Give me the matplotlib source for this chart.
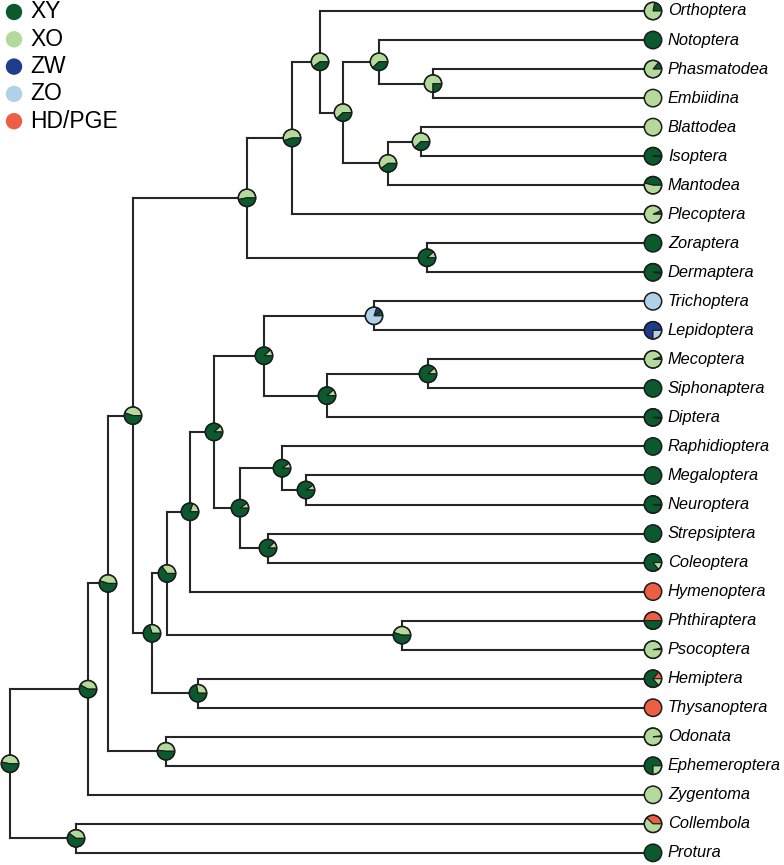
import matplotlib.pyplot as plt
from matplotlib.patches import Wedge, Circle

# tips, top to bottom
taxa = ["Orthoptera", "Notoptera", "Phasmatodea", "Embiidina", "Blattodea",
        "Isoptera", "Mantodea", "Plecoptera", "Zoraptera", "Dermaptera",
        "Trichoptera", "Lepidoptera", "Mecoptera", "Siphonaptera", "Diptera",
        "Raphidioptera", "Megaloptera", "Neuroptera", "Strepsiptera", "Coleoptera",
        "Hymenoptera", "Phthiraptera", "Psocoptera", "Hemiptera", "Thysanoptera",
        "Odonata", "Ephemeroptera", "Zygentoma", "Collembola", "Protura"]

# state probabilities at the tips
tip_XY = [0.22, 1, 0.14, 0, 0, 0.99, 0.46, 0.07, 1, 0.98,
          0, 0, 0.05, 1, 0.98, 1, 1, 0.98, 1, 0.86,
          0, 0.5, 0.03, 0.72, 0, 0.02, 0.75, 0, 0, 1]
tip_XO = [0.78, 0, 0.86, 1, 1, 0.01, 0.54, 0.93, 0, 0.02,
          0, 0, 0.95, 0, 0.02, 0, 0, 0.02, 0, 0.14,
          0, 0, 0.97, 0.14, 0, 0.98, 0.25, 1, 0.62, 0]
tip_ZW = [0] * 11 + [0.75] + [0] * 18
tip_ZO = [0] * 10 + [1, 0.25] + [0] * 18
tip_HD = [0] * 20 + [1, 0.5, 0, 0.14, 1, 0, 0, 0, 0.38, 0]

# internal nodes (ancestral state reconstruction)
node_names = ["n1", "n2", "n3", "n4", "n5", "n6", "n7", "n8", "n9", "n10",
              "n11", "n12", "n13", "n14", "n15", "n16", "n17", "n18", "n19", "n20",
              "n21", "n22", "n23", "n24", "n25", "n26", "n27", "n28", "root"]
node_children = [("Phasmatodea", "Embiidina"), ("Notoptera", "n1"),
                 ("Blattodea", "Isoptera"), ("n3", "Mantodea"), ("n2", "n4"),
                 ("Orthoptera", "n5"), ("n6", "Plecoptera"), ("Zoraptera", "Dermaptera"),
                 ("n7", "n8"), ("Trichoptera", "Lepidoptera"),
                 ("Mecoptera", "Siphonaptera"), ("n11", "Diptera"), ("n10", "n12"),
                 ("Megaloptera", "Neuroptera"), ("Raphidioptera", "n14"),
                 ("Strepsiptera", "Coleoptera"), ("n15", "n16"), ("n13", "n17"),
                 ("n18", "Hymenoptera"), ("Phthiraptera", "Psocoptera"),
                 ("n19", "n20"), ("Hemiptera", "Thysanoptera"), ("n21", "n22"),
                 ("n9", "n23"), ("Odonata", "Ephemeroptera"), ("n24", "n25"),
                 ("n26", "Zygentoma"), ("Collembola", "Protura"), ("n27", "n28")]
node_depth = [433, 379, 421, 388, 343, 320, 292, 427, 247, 374,
              428, 327, 264, 306, 282, 268, 240, 214, 190, 402,
              167, 198, 152, 133, 166, 108, 88, 76, 10]
node_XO = [0.75, 0.62, 0.62, 0.6, 0.62, 0.6, 0.55, 0.12, 0.53, 0,
           0.12, 0.12, 0.12, 0.1, 0.1, 0.12, 0.1, 0.12, 0.2, 0.45,
           0.35, 0.28, 0.3, 0.45, 0.48, 0.45, 0.42, 0.4, 0.47]
node_ZW = [0] * 9 + [0.1] + [0] * 19
node_ZO = [0] * 9 + [0.8] + [0] * 19
node_XY = [1 - a - b - c for a, b, c in zip(node_XO, node_ZW, node_ZO)]

states = ["XY", "XO", "ZW", "ZO", "HD/PGE"]
colors = {"XY": "#0b5a2e", "XO": "#b3d99b", "ZW": "#1f3c8c",
          "ZO": "#b0d1e8", "HD/PGE": "#ec5f44"}

tip_x = 653
row_h = 29.03
r = 8.7
edge = "#1c1c1c"
line_col = "#262626"

fig = plt.figure(figsize=(7.84, 8.65), dpi=100)
ax = fig.add_axes([0, 0, 1, 1])
ax.set_xlim(0, 784)
ax.set_ylim(-854, 11)
ax.axis("off")

pos = {}
for i, t in enumerate(taxa):
    pos[t] = (tip_x, -i * row_h)


def node_pos(name):
    if name in pos:
        return pos[name]
    k = node_names.index(name)
    ys = [node_pos(c)[1] for c in node_children[k]]
    pos[name] = (node_depth[k], sum(ys) / len(ys))
    return pos[name]


for n in node_names:
    node_pos(n)

# branches
for k, n in enumerate(node_names):
    x, y = pos[n]
    cy = [pos[c][1] for c in node_children[k]]
    ax.plot([x, x], [min(cy), max(cy)], color=line_col, lw=1.5, zorder=1,
            solid_capstyle="projecting")
    for c in node_children[k]:
        ax.plot([x, pos[c][0]], [pos[c][1], pos[c][1]], color=line_col, lw=1.5,
                zorder=1, solid_capstyle="projecting")


def draw_pie(x, y, fracs, cols):
    start = 0
    for f, c in zip(fracs, cols):
        if f <= 0:
            continue
        if f >= 0.999:
            ax.add_patch(Circle((x, y), r, fc=c, ec="none", zorder=3))
        else:
            ax.add_patch(Wedge((x, y), r, start, start + f * 360, fc=c,
                               ec=edge, lw=0.8, zorder=3))
        start += f * 360
    ax.add_patch(Circle((x, y), r, fill=False, ec=edge, lw=1.1, zorder=4))


for i, t in enumerate(taxa):
    x, y = pos[t]
    fr = [tip_HD[i], tip_XY[i], tip_XO[i], tip_ZW[i], tip_ZO[i]]
    cl = [colors[s] for s in ["HD/PGE", "XY", "XO", "ZW", "ZO"]]
    draw_pie(x, y, fr, cl)
    ax.text(x + 15, y, t, fontsize=11.8, style="italic", va="center", ha="left",
            family="Liberation Sans")

for k, n in enumerate(node_names):
    x, y = pos[n]
    fr = [node_XO[k], node_XY[k], node_ZW[k], node_ZO[k]]
    cl = [colors[s] for s in ["XO", "XY", "ZW", "ZO"]]
    draw_pie(x, y, fr, cl)

# legend
for j, s in enumerate(states):
    ly = -1 - j * 27.3
    ax.add_patch(Circle((14, ly), 8.2, fc=colors[s], ec="none", zorder=3))
    ax.text(30, ly, s, fontsize=16.5, va="center", ha="left", family="Liberation Sans")

fig.savefig("out.png", dpi=100)
